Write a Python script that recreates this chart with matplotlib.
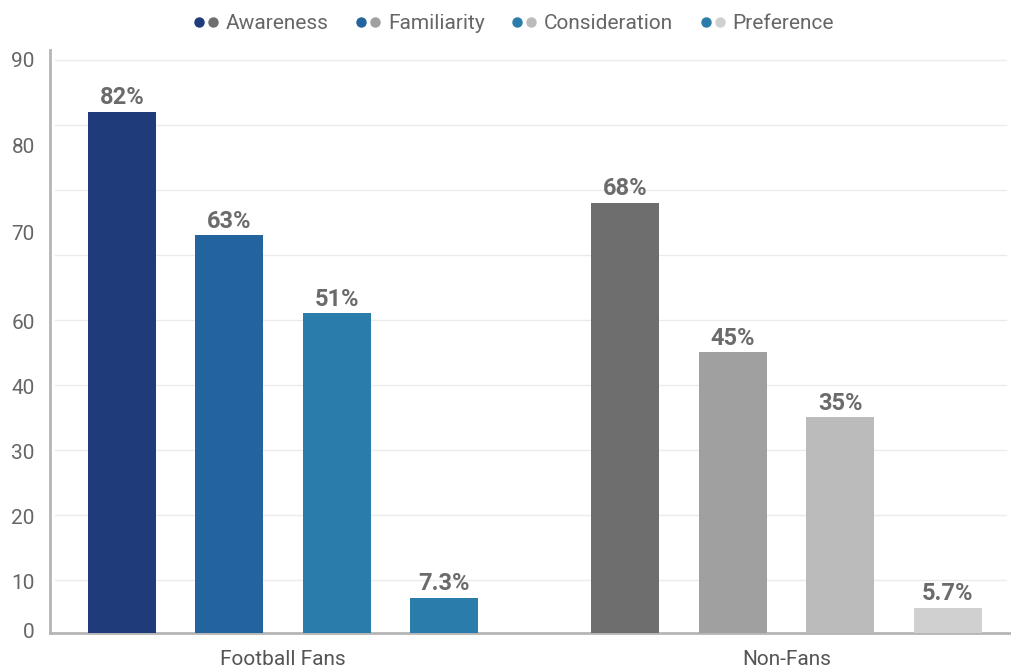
import matplotlib.pyplot as plt
from matplotlib.lines import Line2D
from matplotlib.legend_handler import HandlerTuple

plt.rcParams['font.family'] = ['Roboto', 'DejaVu Sans']

# datos
grupos = ['Football Fans', 'Non-Fans']
etapas = ['Awareness', 'Familiarity', 'Consideration', 'Preference']
fans = [82, 63, 51, 7.3]
no_fans = [68, 45, 35, 5.7]
etiq_fans = ['82%', '63%', '51%', '7.3%']
etiq_no_fans = ['68%', '45%', '35%', '5.7%']

# marcas del eje y tal como aparecen
y_pos = [2.3, 9.7, 19.8, 29.8, 39.8, 49.8, 63.4, 76.8, 90]
y_etiq = ['0', '10', '20', '30', '40', '60', '70', '80', '90']
rejilla = [10, 20, 30, 40, 50, 60, 70, 80, 90]

col_fans = ['#1f3b7a', '#23649e', '#2a7dab', '#2a7dab']
col_no = ['#6e6e6e', '#a0a0a0', '#bbbbbb', '#d0d0d0']

fig = plt.figure(figsize=(10.11, 6.7), dpi=100)
ax = fig.add_axes([50/1011, 37/670, 961/1011, 583/670])

paso = 0.2135
ancho = 0.135
for i in range(4):
    off = (i - 1.5) * paso
    b1 = ax.bar(0 + off, fans[i], ancho, color=col_fans[i], zorder=3)
    b2 = ax.bar(1 + off, no_fans[i], ancho, color=col_no[i], zorder=3)
    ax.bar_label(b1, [etiq_fans[i]], padding=2, fontsize=17, fontweight='bold', color='#6b6b6b')
    ax.bar_label(b2, [etiq_no_fans[i]], padding=2, fontsize=17, fontweight='bold', color='#6b6b6b')

for g in rejilla:
    ax.axhline(g, xmin=0.005, xmax=0.995, color='#ebebeb', lw=1, zorder=1)

ax.set_xlim(-0.463, 1.446)
ax.set_ylim(1.85, 91.5)
ax.set_xticks([0, 1], grupos)
ax.set_yticks(y_pos, y_etiq)
ax.tick_params(axis='x', length=0, pad=12, labelsize=15, labelcolor='#555555')
ax.tick_params(axis='y', length=0, pad=11, labelsize=15, labelcolor='#666666')

for s in ['top', 'right']:
    ax.spines[s].set_visible(False)
for s in ['left', 'bottom']:
    ax.spines[s].set_color('#b5b5b5')
    ax.spines[s].set_linewidth(2)

# leyenda con dos puntos por etapa
manejadores = []
for i in range(4):
    p1 = Line2D([], [], marker='o', ls='', color=col_fans[i], markersize=6.5)
    p2 = Line2D([], [], marker='o', ls='', color=col_no[i], markersize=6.5)
    manejadores.append((p1, p2))
fig.legend(manejadores, etapas, handler_map={tuple: HandlerTuple(ndivide=None, pad=0.15)},
           loc='center', bbox_to_anchor=(0.508, 0.965), ncol=4, frameon=False,
           fontsize=15, labelcolor='#666666', handlelength=1.2, handletextpad=0.35,
           columnspacing=1.3)

plt.savefig('out.png', dpi=100)
